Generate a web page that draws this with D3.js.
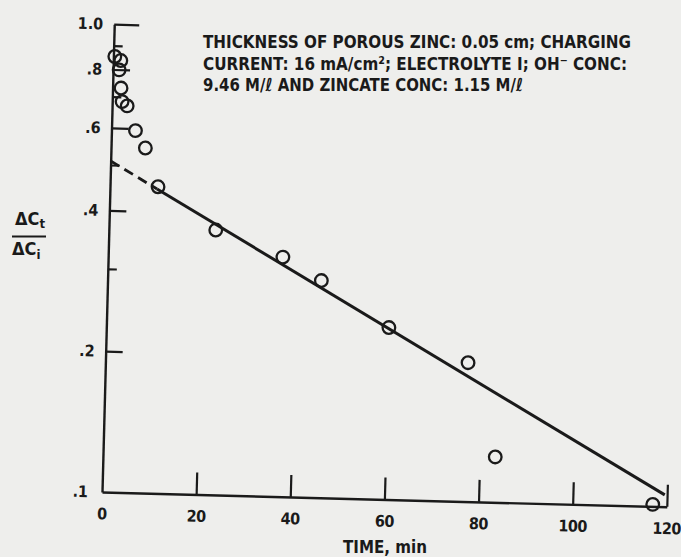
<!DOCTYPE html>
<html lang="en">
<head>
    <meta charset="UTF-8">
    <title>Porous zinc concentration decay</title>
    <style>
        html, body { margin: 0; padding: 0; background: #eeeeec; }
        svg { display: block; }
    </style>
</head>
<body>
<script src="https://cdn.jsdelivr.net/npm/d3@7"></script>
<script>
    // measured points (time in min, dC_t / dC_i)
    const times = [0.3, 1.6, 1.3, 1.8, 2.1, 3.2, 5.1, 7.3, 10.2, 22.7, 37.1, 45.4, 60.0, 77.0, 83.3, 117.0];
    const ratios = [0.853, 0.837, 0.799, 0.731, 0.684, 0.670, 0.594, 0.546, 0.452, 0.368, 0.325, 0.291, 0.233, 0.198, 0.125, 0.101];

    // fitted straight line (semi-log), dashed part is the extrapolation
    const dashTimes = [0, 10];
    const dashRatios = [0.51, 0.447];
    const fitTimes = [10, 119.5];
    const fitRatios = [0.447, 0.106];

    const xTicks = [0, 20, 40, 60, 80, 100, 120];
    const yLabelTicks = [1.0, 0.8, 0.6, 0.4, 0.2, 0.1];
    const yMinorTicks = [0.9, 0.7, 0.5, 0.3];

    const noteLines = [
        "THICKNESS OF POROUS ZINC:  0.05 cm;  CHARGING",
        "CURRENT:  16 mA/cm\u00b2;  ELECTROLYTE I;  OH\u207b CONC:",
        "9.46 M/\u2113 AND ZINCATE CONC:  1.15 M/\u2113"
    ];

    const width = 681;
    const height = 557;
    const origin = {x: 102, y: 492};
    const ink = "#1a1a1a";
    const font = "'DejaVu Sans Condensed', 'Liberation Sans Narrow', sans-serif";

    const svg = d3.select("body")
        .append("svg")
        .attr("width", width)
        .attr("height", height);

    const x = d3.scaleLinear().domain([0, 120]).range([origin.x, 667]);
    const y = d3.scaleLog().domain([0.1, 1]).range([origin.y, 24]);

    // the scanned figure sits a little crooked
    const plot = svg.append("g")
        .attr("transform", `rotate(1.5, ${origin.x}, ${origin.y})`);

    const fmt = d => d === 1 ? "1.0" : d3.format(".1f")(d).replace(/^0/, "");

    // y axis, labelled ticks
    const yAxis = plot.append("g")
        .attr("transform", `translate(${origin.x},0)`)
        .call(d3.axisLeft(y).tickValues(yLabelTicks).tickFormat(fmt)
            .tickSizeInner(-17).tickSizeOuter(0).tickPadding(11));
    yAxis.select(".domain").attr("stroke", ink).attr("stroke-width", 2.4);
    yAxis.selectAll(".tick line").attr("stroke", ink).attr("stroke-width", 2.2)
        .attr("x2", d => d === 1 ? 25 : d === 0.1 ? 0 : 17);
    yAxis.selectAll(".tick text")
        .attr("fill", ink)
        .attr("font-family", font)
        .attr("font-weight", "bold")
        .attr("font-size", 16)
        .attr("x", d => d === 0.1 ? -14 : -11);

    // y axis, short ticks
    const yMinor = plot.append("g")
        .attr("transform", `translate(${origin.x},0)`)
        .call(d3.axisLeft(y).tickValues(yMinorTicks).tickFormat("")
            .tickSizeInner(-9).tickSizeOuter(0));
    yMinor.select(".domain").remove();
    yMinor.selectAll(".tick line").attr("stroke", ink).attr("stroke-width", 2.2);

    // x axis
    const xAxis = plot.append("g")
        .attr("transform", `translate(0,${origin.y})`)
        .call(d3.axisBottom(x).tickValues(xTicks)
            .tickSizeInner(-22).tickSizeOuter(0).tickPadding(16));
    xAxis.select(".domain").attr("stroke", ink).attr("stroke-width", 2.4);
    xAxis.selectAll(".tick line").attr("stroke", ink).attr("stroke-width", 2.2)
        .attr("y2", d => d === 0 ? 0 : -22);
    xAxis.selectAll(".tick text")
        .attr("fill", ink)
        .attr("font-family", font)
        .attr("font-weight", "bold")
        .attr("font-size", 16)
        .attr("letter-spacing", -0.5);

    const line = d3.line()
        .x(d => x(d[0]))
        .y(d => y(d[1]));

    plot.append("path")
        .datum(dashTimes.map((t, i) => [t, dashRatios[i]]))
        .attr("d", line)
        .attr("fill", "none")
        .attr("stroke", ink)
        .attr("stroke-width", 2.8)
        .attr("stroke-dasharray", "10,6");

    plot.append("path")
        .datum(fitTimes.map((t, i) => [t, fitRatios[i]]))
        .attr("d", line)
        .attr("fill", "none")
        .attr("stroke", ink)
        .attr("stroke-width", 3);

    plot.append("g")
        .selectAll("circle")
        .data(times.map((t, i) => [t, ratios[i]]))
        .enter().append("circle")
        .attr("cx", d => x(d[0]))
        .attr("cy", d => y(d[1]))
        .attr("r", 6.3)
        .attr("fill", "none")
        .attr("stroke", ink)
        .attr("stroke-width", 2.3);

    // note in the upper right
    svg.append("g")
        .selectAll("text")
        .data(noteLines)
        .enter().append("text")
        .attr("x", 203)
        .attr("y", (d, i) => [48, 69.5, 91][i])
        .attr("textLength", (d, i) => [428, 424, 320][i])
        .attr("lengthAdjust", "spacingAndGlyphs")
        .attr("fill", ink)
        .attr("font-family", font)
        .attr("font-weight", "bold")
        .attr("font-size", 18)
        .text(d => d);

    // axis titles
    svg.append("text")
        .attr("x", 343)
        .attr("y", 553)
        .attr("textLength", 84)
        .attr("lengthAdjust", "spacingAndGlyphs")
        .attr("fill", ink)
        .attr("font-family", font)
        .attr("font-weight", "bold")
        .attr("font-size", 17)
        .text("TIME, min");

    const ylab = svg.append("g")
        .attr("fill", ink)
        .attr("font-family", font)
        .attr("font-weight", "bold");

    const num = ylab.append("text").attr("x", 15).attr("y", 225).attr("font-size", 18);
    num.append("tspan").text("\u0394C");
    num.append("tspan").attr("font-size", 13).attr("dy", 3).text("t");

    ylab.append("line")
        .attr("x1", 12).attr("x2", 46)
        .attr("y1", 236.5).attr("y2", 236.5)
        .attr("stroke", ink).attr("stroke-width", 2);

    const den = ylab.append("text").attr("x", 12).attr("y", 255).attr("font-size", 18);
    den.append("tspan").text("\u0394C");
    den.append("tspan").attr("font-size", 13).attr("dy", 4).text("i");
</script>
</body>
</html>
